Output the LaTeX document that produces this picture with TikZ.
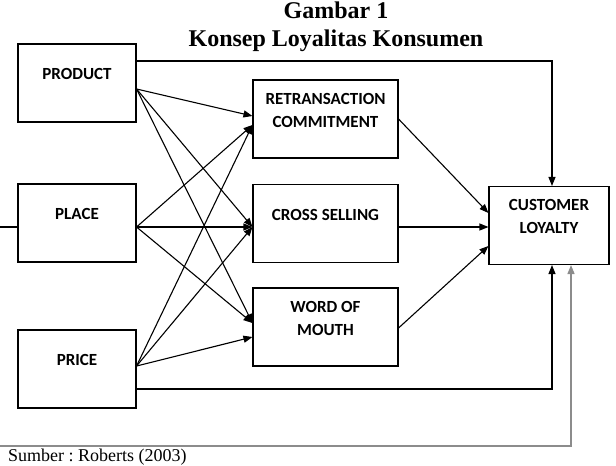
\documentclass[tikz,border=0pt]{standalone}
\usepackage{fontspec}
\setmainfont{Liberation Serif}
\newfontfamily\boxfont{Carlito}
\usepackage{tikz}
\usetikzlibrary{arrows.meta,positioning,calc}
\frenchspacing

\newcommand{\boxtxt}[2]{\parbox[c][78pt][c]{#1}{\centering #2\par\vspace{18pt}}}

\begin{document}
\begin{tikzpicture}[x=1pt, y=-1pt,
    block/.style={rectangle, draw, line width=1.1pt, fill=white, inner sep=0pt, align=center, font=\boxfont\bfseries\fontsize{17}{23}\selectfont},
    arrow/.style={-{Triangle[length=9pt, width=7pt]}, line width=1.1pt},
    plain/.style={line width=1.1pt},
    grayarrow/.style={-{Triangle[length=9pt, width=7pt]}, line width=1.5pt, draw=gray!90}
]
\useasboundingbox (0,0) rectangle (616,466);
\node[font=\bfseries\fontsize{24}{28}\selectfont, align=center, inner sep=0pt] (title) at (336,27) {Gambar 1\\Konsep Loyalitas Konsumen};

% left column
\node[block] (prod) at (77,83) {\boxtxt{118pt}{PRODUCT}};
\node[block] (place) at (77,223) {\boxtxt{118pt}{PLACE}};
\node[block] (price) at (77,369) {\boxtxt{118pt}{PRICE}};

% middle column
\node[block] (retr) at (325.5,119) {\boxtxt{145pt}{RETRANSACTION\\COMMITMENT}};
\node[block] (cross) at (325.5,223.5) {\boxtxt{145pt}{CROSS SELLING}};
\node[block] (word) at (325.5,327) {\boxtxt{145pt}{WORD OF\\MOUTH}};

% right
\node[block] (loyal) at (549,225.5) {\boxtxt{120pt}{CUSTOMER\\LOYALTY}};

\node[anchor=base west, inner sep=0pt, font=\fontsize{18}{20}\selectfont] (src) at (8,461) {Sumber : Roberts (2003)};

% crossing arrows
\foreach \a/\sa/\b/\sb in {prod/-6/retr/3, prod/-6/cross/-3.5, prod/-6/word/4,
    place/-4/retr/-6, place/-4/cross/-3.5, place/-4/word/4,
    price/3/retr/-6, price/3/cross/-3.5, price/3/word/-10}{
  \draw[arrow] ([yshift=\sa pt]\a.east) -- ([yshift=\sb pt]\b.west);
}
\foreach \a/\sa/\sb in {retr/0/12.5, cross/-3.5/-1.5, word/-1/-20.5}{
  \draw[arrow] ([yshift=\sa pt]\a.east) -- ([yshift=\sb pt]loyal.west);
}

% outer lines
\draw[arrow] ([yshift=22pt]prod.east) -| ([xshift=3pt]loyal.north);
\draw[arrow] ([yshift=-20pt]price.east) -| ([xshift=3pt]loyal.south);
\coordinate (lin) at (0,227);
\draw[plain] (lin) -- ([yshift=-4pt]place.west);
\coordinate (gin) at (0,446);
\draw[grayarrow] (gin) -| ([xshift=22pt]loyal.south);
\end{tikzpicture}
\end{document}
